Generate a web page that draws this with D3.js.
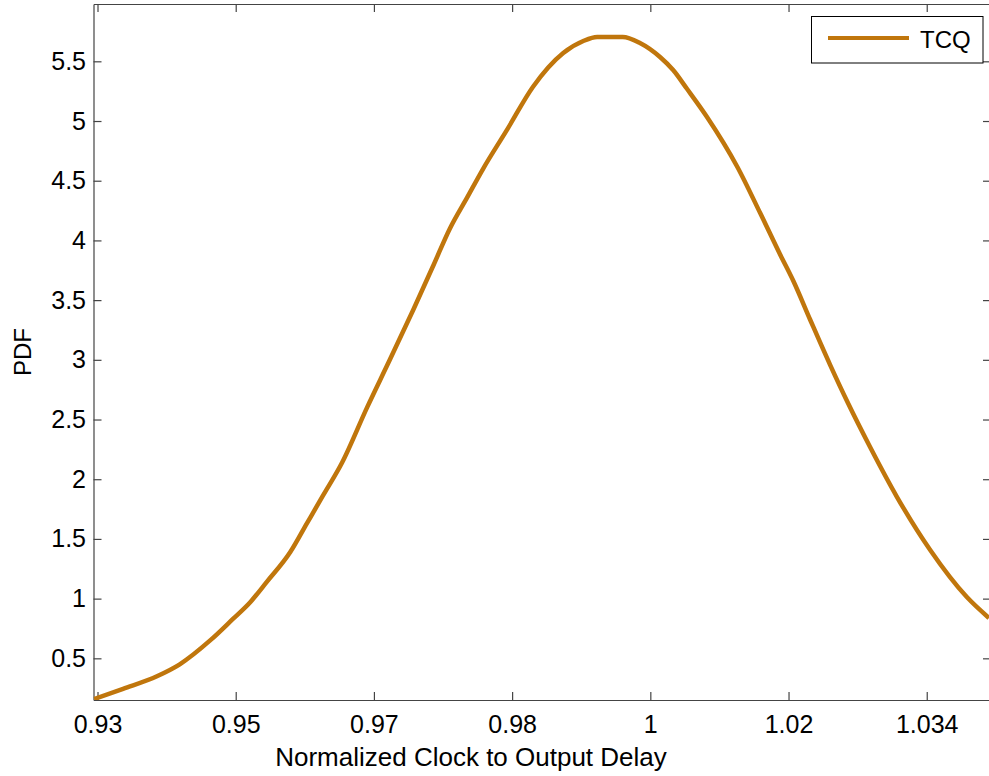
<!DOCTYPE html>
<html>
<head>
<meta charset="utf-8">
<script src="https://cdn.jsdelivr.net/npm/d3@7"></script>
<style>
  body { margin: 0; background: #fff; }
  svg { display: block; font-family: "Liberation Sans", Arial, sans-serif; }
</style>
</head>
<body>
<svg width="989" height="776"></svg>
<script>
// delay values (axis units) and the matching PDF values
const delay = [0.9295, 0.9337, 0.9386, 0.9419, 0.9463, 0.9496, 0.9521, 0.9545, 0.9579, 0.9603,
  0.9626, 0.9654, 0.9690, 0.9723, 0.9757, 0.9786, 0.9810, 0.9835, 0.9858, 0.9893,
  0.9930, 0.9974, 1.0003, 1.0023, 1.0060, 1.0085, 1.0114, 1.0133, 1.0153, 1.0182, 1.0226,
  1.0259, 1.0288, 1.0307, 1.0331, 1.0360, 1.0386, 1.0418, 1.0457, 1.0505, 1.0558, 1.0590];
const pdf = [0.159, 0.245, 0.350, 0.450, 0.650, 0.830, 0.970, 1.140, 1.390, 1.630,
  1.860, 2.140, 2.600, 3.000, 3.420, 3.790, 4.100, 4.360, 4.600, 4.930,
  5.285, 5.570, 5.670, 5.704, 5.704, 5.653, 5.536, 5.427, 5.270, 5.034, 4.615,
  4.229, 3.880, 3.660, 3.340, 2.960, 2.638, 2.270, 1.851, 1.407, 1.013, 0.838];

// tick positions and the labels printed under them
const xTickVals = [0.93, 0.95, 0.97, 0.99, 1.01, 1.03, 1.05];
const xTickLabels = ["0.93", "0.95", "0.97", "0.98", "1", "1.02", "1.034"];
const yTickVals = [0.5, 1, 1.5, 2, 2.5, 3, 3.5, 4, 4.5, 5, 5.5];

const xLimits = [0.92942, 1.0593];
const yLimits = [0.151, 5.98];

const seriesName = "TCQ";
const lineColor = "#c0760c";

const svg = d3.select("svg");
const plot = { left: 93.5, right: 991, top: 4, bottom: 700 };

const x = d3.scaleLinear().domain(xLimits).range([plot.left, plot.right]);
const y = d3.scaleLinear().domain(yLimits).range([plot.bottom, plot.top]);

const axisColor = "#444";

// bottom axis with labels
svg.append("g")
  .attr("transform", `translate(0,${plot.bottom})`)
  .call(d3.axisBottom(x).tickValues(xTickVals)
    .tickFormat((d, i) => xTickLabels[i])
    .tickSizeInner(-8).tickSizeOuter(0).tickPadding(15));

// left axis with labels
svg.append("g")
  .attr("transform", `translate(${plot.left},0)`)
  .call(d3.axisLeft(y).tickValues(yTickVals)
    .tickFormat(d => String(d))
    .tickSizeInner(-8).tickSizeOuter(0).tickPadding(7.5));

// top and right box axes, ticks only
svg.append("g")
  .attr("transform", `translate(0,${plot.top})`)
  .call(d3.axisTop(x).tickValues(xTickVals).tickFormat("").tickSizeInner(-8).tickSizeOuter(0));
svg.append("g")
  .attr("transform", `translate(${plot.right},0)`)
  .call(d3.axisRight(y).tickValues(yTickVals).tickFormat("").tickSizeInner(-8).tickSizeOuter(0));

svg.selectAll(".domain, .tick line").attr("stroke", axisColor).attr("stroke-width", 1.2);
svg.selectAll(".tick text").attr("font-size", 25).attr("fill", "#000")
  .attr("font-family", "'Liberation Sans', Arial, sans-serif");

// clip the curve to the axes box
svg.append("clipPath").attr("id", "clip")
  .append("rect")
  .attr("x", plot.left).attr("y", plot.top)
  .attr("width", plot.right - plot.left).attr("height", plot.bottom - plot.top);

const points = delay.map((d, i) => [d, pdf[i]]);
const line = d3.line()
  .x(d => x(d[0]))
  .y(d => y(d[1]))
  .curve(d3.curveMonotoneX);

svg.append("path")
  .datum(points)
  .attr("clip-path", "url(#clip)")
  .attr("d", line)
  .attr("fill", "none")
  .attr("stroke", lineColor)
  .attr("stroke-width", 4.5)
  .attr("stroke-linejoin", "round");

// axis labels
svg.append("text")
  .attr("x", 471)
  .attr("y", 766)
  .attr("text-anchor", "middle")
  .attr("font-size", 26)
  .text("Normalized Clock to Output Delay");

svg.append("text")
  .attr("transform", "rotate(-90)")
  .attr("x", -352)
  .attr("y", 31)
  .attr("text-anchor", "middle")
  .attr("font-size", 24)
  .text("PDF");

// legend
const lg = svg.append("g");
lg.append("rect")
  .attr("x", 811.5).attr("y", 16.5)
  .attr("width", 171.5).attr("height", 46.5)
  .attr("fill", "#fff").attr("stroke", "#000").attr("stroke-width", 1);
lg.append("line")
  .attr("x1", 828).attr("x2", 909)
  .attr("y1", 38).attr("y2", 38)
  .attr("stroke", lineColor).attr("stroke-width", 4);
lg.append("text")
  .attr("x", 920).attr("y", 48)
  .attr("font-size", 24)
  .text(seriesName);
</script>
</body>
</html>
